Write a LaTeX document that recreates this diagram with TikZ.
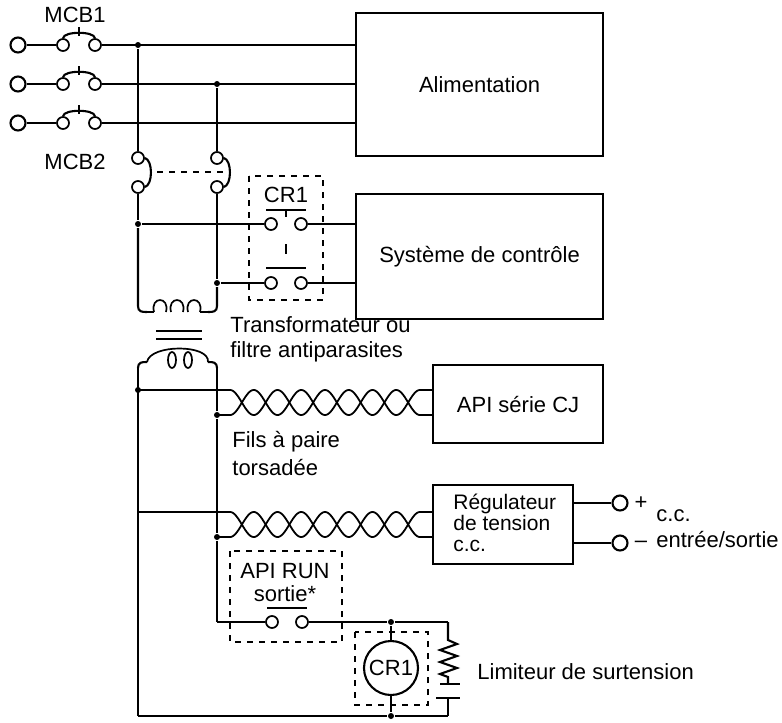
\documentclass[tikz,border=0pt]{standalone}
\usepackage{fontspec}
\setmainfont{Liberation Sans}
\usetikzlibrary{positioning}
\begin{document}
\begin{tikzpicture}[x=1pt, y=-1pt, line width=2.1pt,
  term/.style={circle, draw, fill=white, inner sep=0pt, minimum size=15pt},
  pin/.style={circle, draw, fill=white, inner sep=0pt, minimum size=12pt, line width=1.7pt},
  dot/.style={circle, fill, inner sep=0pt, minimum size=6pt},
  blk/.style={draw, rectangle, anchor=north west, inner sep=0pt},
  lab/.style={font=\fontsize{22}{25}\selectfont, align=left},
  grp/.style={dash pattern=on 6pt off 6pt, line width=2pt}]
\useasboundingbox (0,0) rectangle (782,723);

% blocks
\node[blk, minimum width=247pt, minimum height=143pt] (alim) at (355,12) {};
\node[lab] at (alim.center) {Alimentation};
\node[blk, minimum width=247pt, minimum height=125pt] (ctrl) at (355,193) {};
\node[lab] at (ctrl.center) {Système de contrôle};
\node[blk, minimum width=170pt, minimum height=78pt] (cj) at (432,364) {};
\node[lab] at (cj.center) {API série CJ};
\node[blk, minimum width=140pt, minimum height=79pt] (reg) at (432,484) {};
\node[lab, anchor=west, font=\fontsize{21}{21}\selectfont] at (449,523) {Régulateur\\de tension\\c.c.};

% MCB1 lines
\foreach \y/\n in {45/1,84/2,123/3}{
  \node[term] (in\n) at (18,\y) {};
  \node[pin] (sa\n) at (63,\y) {};
  \node[pin] (sb\n) at (95,\y) {};
  \coordinate (r\n) at (355,\y);
  \draw (in\n) -- (sa\n) (sb\n) -- (r\n);
  \draw (sa\n.north) .. controls (64,\y-14) and (94,\y-14) .. (sb\n.north);
  \draw (79,\y-18) -- (79,\y-9);
}
\node[lab] at (75,15) {MCB1};

% MCB2
\node[dot] (d1) at (138,45) {};
\node[dot] (d2) at (217,84) {};
\node[pin] (m1a) at (138,158) {};
\node[pin] (m1b) at (138,187) {};
\node[pin] (m2a) at (217,158) {};
\node[pin] (m2b) at (217,187) {};
\draw (d1) -- (m1a) (d2) -- (m2a);
\draw (m1a.east) .. controls (153,160) and (153,185) .. (m1b.east);
\draw (m2a.east) .. controls (232,160) and (232,185) .. (m2b.east);
\draw[grp, line width=1.7pt] (157,172) -- (229,172);
\node[lab] at (75,162) {MCB2};

% CR1 contacts
\node[dot] (d3) at (138,224) {};
\node[dot] (d4) at (217,283) {};
\node[pin] (ka) at (271,224) {};
\node[pin] (kb) at (301,224) {};
\node[pin] (kc) at (271,283) {};
\node[pin] (kd) at (301,283) {};
\draw (m1b) -- (d3) -- (ka) (kb) -- (355,224);
\draw (m2b) -- (d4) -- (kc) (kd) -- (355,283);
\draw (266,210) -- (306,210) (286,210) -- (286,217);
\draw (266,268) -- (306,268);
\draw (286,244) -- (286,254);
\node[lab] at (286,195) {CR1};
\draw[grp] (249,176) rectangle (323,300);

% transformer
\draw (d3) -- (138,306) .. controls (138,312) and (142,312) .. (147,312);
\draw (d4) -- (217,306) .. controls (217,312) and (213,312) .. (208,312);
\foreach \k in {0,1,2}
  \draw[line width=1.7pt] (154+17*\k,312) .. controls (150+17*\k,296) and (170+17*\k,296) .. (166+17*\k,312);
\draw (147,312) -- (154,312) (200,312) -- (208,312);
\draw (156,331) -- (202,331) (156,339) -- (202,339);
\draw (147,362) .. controls (142,362) and (138,362) .. (138,368);
\draw (208,362) .. controls (213,362) and (217,362) .. (217,368);
\draw[line width=1.7pt] (147,362) .. controls (150,344) and (210,344) .. (208,362);
\draw[line width=1.7pt] (172,360) ellipse (4pt and 8pt) (188,360) ellipse (4pt and 8pt);
\node[lab, anchor=west] at (226,325) {Transformateur ou};
\node[lab, anchor=west] at (226,352) {filtre antiparasites};

% twisted pairs
\coordinate (t1) at (138,390);
\node[dot] at (t1) {};
\node[dot] (d5) at (217,415) {};
\node[dot] (d6) at (217,537) {};
\coordinate (t2) at (138,512);
\coordinate (tb) at (138,716);
\draw (138,368) -- (t1) -- (t2) -- (tb);
\draw (217,368) -- (d5) -- (d6) -- (217,622);
\foreach \yt/\bx in {390/432, 512/432}{
  \draw (138,\yt) -- (230,\yt);
  \draw (217,\yt+25) -- (230,\yt+25);
  \draw[line width=1.8pt, domain=0:190, samples=200, smooth] plot ({230+\x}, {\yt+12.5-12.5*cos(\x*7.5789)});
  \draw[line width=1.8pt, domain=0:190, samples=200, smooth] plot ({230+\x}, {\yt+12.5+12.5*cos(\x*7.5789)});
  \draw (420,\yt) -- (\bx,\yt) (420,\yt+25) -- (\bx,\yt+25);
}
\node[lab, anchor=west] at (228,442) {Fils à paire};
\node[lab, anchor=west] at (228,468) {torsadée};

% DC outputs
\node[term] (op) at (620,503) {};
\node[term] (om) at (620,543) {};
\draw (572,503) -- (op) (572,543) -- (om);
\node[lab] at (641,503) {+};
\node[lab] at (641,544) {--};
\node[lab, anchor=west] at (652,516) {c.c.};
\node[lab, anchor=west] at (652,540) {entrée/sortie};

% API RUN output
\node[pin] (ra) at (272,622) {};
\node[pin] (rb) at (302,622) {};
\node[dot] (d7) at (391,622) {};
\draw (217,622) -- (ra) (rb) -- (d7) -- (448,622);
\draw (267,608) -- (307,608);
\node[lab] at (285,571) {API RUN};
\node[lab] at (285,594) {sortie*};
\draw[grp] (230,551) rectangle (342,642);

% CR1 coil and surge limiter
\node[circle, draw, minimum size=54pt, inner sep=0pt, lab] (coil) at (391,668) {CR1};
\node[dot] (d8) at (391,716) {};
\draw (d7) -- (coil) -- (d8);
\draw (tb) -- (d8) -- (448,716);
\draw[grp] (355,632) rectangle (428,705);
\draw (448,622) -- (448,640) -- (457,644) -- (440,650) -- (457,656) -- (440,662) -- (457,668) -- (440,674) -- (448,677) -- (448,684);
\draw (440,684) -- (460,684) (436,698) -- (460,698);
\draw (448,698) -- (448,716);
\node[lab, anchor=west] at (473,672) {Limiteur de surtension};
\end{tikzpicture}
\end{document}
